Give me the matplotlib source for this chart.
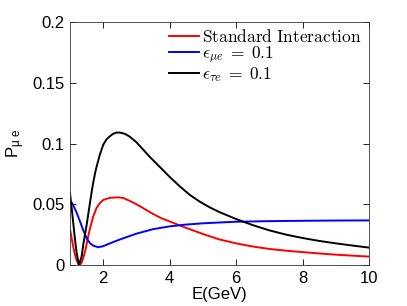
import numpy as np
import matplotlib
matplotlib.use("Agg")
import matplotlib.pyplot as plt

# valores
E_si = [1.0, 1.05, 1.1, 1.15, 1.2, 1.25, 1.3, 1.35, 1.4, 1.45, 1.5, 1.55, 1.6, 1.7, 1.8, 1.9, 2.0, 2.2, 2.45,
        2.6, 2.85, 3.0, 3.25, 3.5, 3.75, 4.0, 4.5, 5.0, 5.5, 6.0, 6.5, 7.0, 7.5, 8.0, 8.5, 9.0, 9.5, 10.0]
P_si = [0.0296, 0.022, 0.0148, 0.0085, 0.0038, 0.0008, 0.0, 0.002, 0.006, 0.011, 0.017, 0.024, 0.030, 0.040,
        0.047, 0.051, 0.0535, 0.0553, 0.0557, 0.0552, 0.0521, 0.050, 0.046, 0.042, 0.0385, 0.0358, 0.0305,
        0.0255, 0.021, 0.0178, 0.0152, 0.0132, 0.0118, 0.0106, 0.0095, 0.0085, 0.0077, 0.0069]

E_mue = [1.0, 1.05, 1.1, 1.2, 1.3, 1.4, 1.5, 1.6, 1.7, 1.85, 2.0, 2.2, 2.5, 2.8, 3.0, 3.5, 4.0, 4.5, 5.0,
         5.5, 6.0, 7.0, 8.0, 9.0, 10.0]
P_mue = [0.0508, 0.0515, 0.049, 0.043, 0.036, 0.0285, 0.022, 0.018, 0.0159, 0.0146, 0.0155, 0.0178, 0.021,
         0.0239, 0.0258, 0.0295, 0.0318, 0.0333, 0.0343, 0.035, 0.0356, 0.0361, 0.0364, 0.0366, 0.0367]

E_tau = [1.0, 1.05, 1.1, 1.15, 1.2, 1.27, 1.35, 1.4, 1.45, 1.5, 1.55, 1.6, 1.65, 1.7, 1.75, 1.8, 1.87, 1.9,
         2.0, 2.1, 2.2, 2.3, 2.4, 2.5, 2.65, 2.8, 3.0, 3.2, 3.4, 3.6, 3.8, 4.0, 4.3, 4.6, 4.9, 5.2, 5.5, 6.0,
         6.5, 7.0, 7.5, 8.0, 8.5, 9.0, 9.5, 10.0]
P_tau = [0.059, 0.047, 0.034, 0.021, 0.01, 0.0, 0.007, 0.017, 0.025, 0.033, 0.042, 0.051, 0.060, 0.068, 0.075,
         0.081, 0.088, 0.091, 0.099, 0.1035, 0.106, 0.108, 0.109, 0.109, 0.108, 0.1056, 0.101, 0.095, 0.089,
         0.0835, 0.078, 0.0725, 0.0648, 0.0578, 0.0522, 0.0475, 0.0435, 0.0378, 0.0328, 0.0285, 0.025, 0.0222,
         0.0198, 0.0178, 0.016, 0.0143]

plt.rcParams['font.family'] = ['Liberation Sans', 'DejaVu Sans']
plt.rcParams['mathtext.fontset'] = 'cm'

fig = plt.figure(figsize=(4.07, 3.06), dpi=100)
ax = fig.add_axes([0.172, 0.134, 0.735, 0.794])

ax.plot(E_si, P_si, color='red', lw=1.4, label=r'$\mathrm{Standard\ Interaction}$')
ax.plot(E_mue, P_mue, color='blue', lw=1.4, label=r'$\epsilon_{\mu e}\;=\;0.1$')
ax.plot(E_tau, P_tau, color='black', lw=1.4, label=r'$\epsilon_{\tau e}\;=\;0.1$')

ax.set_xlim(1, 10)
ax.set_ylim(0, 0.2)
ax.set_xticks([2, 4, 6, 8, 10])
ax.set_yticks([0, 0.05, 0.1, 0.15, 0.2])
ax.set_yticklabels(['0', '0.05', '0.1', '0.15', '0.2'])
ax.tick_params(direction='in', top=True, right=True, length=4, width=0.6, labelsize=12, pad=4)
for s in ax.spines.values():
    s.set_linewidth(0.6)
    s.set_color('#333333')

ax.set_xlabel('E(GeV)', fontsize=12, labelpad=1)
ax.set_ylabel(r'P$_{\mathregular{\mu\ e}}$', fontsize=12, labelpad=4)

ax.legend(loc='upper left', frameon=False, fontsize=12.5, handlelength=1.75, handletextpad=0.15,
          labelspacing=0.0, borderaxespad=0.0, borderpad=0.0, bbox_to_anchor=(0.33, 0.975))

fig.savefig('out.png', dpi=100)
